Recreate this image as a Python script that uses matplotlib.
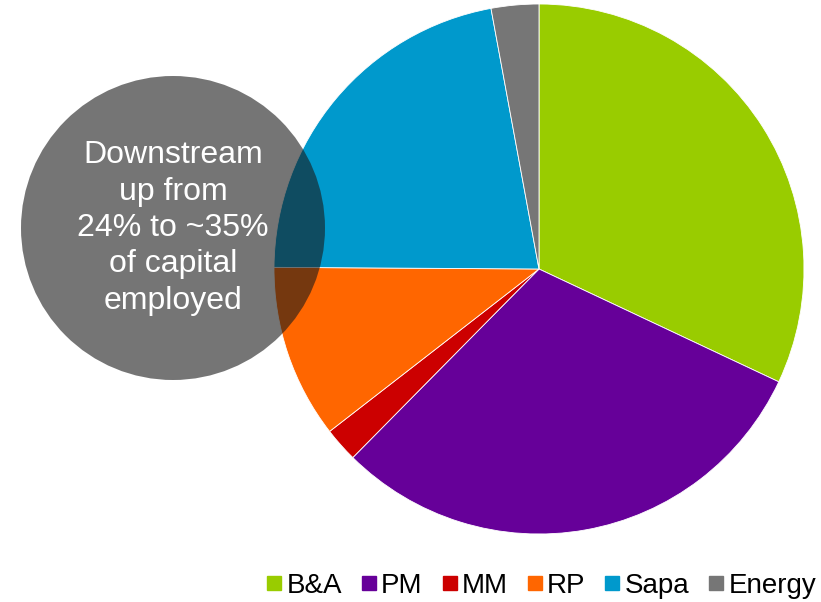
import matplotlib
matplotlib.use("Agg")
import matplotlib.pyplot as plt
from matplotlib.patches import Circle
from matplotlib.lines import Line2D

plt.rcParams['font.family'] = ['Liberation Sans', 'DejaVu Sans']

# Share of capital employed by business area (%)
segments = ["B&A", "PM", "MM", "RP", "Sapa", "Energy"]
shares = [32.0, 30.4, 2.1, 10.6, 22.0, 2.9]
colors = ["#99cc00", "#660099", "#cc0000", "#ff6600", "#0099cc", "#767676"]

callout = "Downstream\nup from\n24% to ~35%\nof capital\nemployed"

W, H = 821, 602
fig = plt.figure(figsize=(W / 100, H / 100), dpi=100)
ax = fig.add_axes([0, 0, 1, 1])
ax.set_xlim(0, W)
ax.set_ylim(0, H)
ax.set_aspect("equal")
ax.axis("off")

ax.pie(shares, colors=colors, startangle=90, counterclock=False,
       center=(539, H - 269), radius=265,
       wedgeprops=dict(linewidth=0.6, edgecolor="white"))
ax.set_xlim(0, W)
ax.set_ylim(0, H)

# translucent callout bubble
ax.add_patch(Circle((173, H - 228), 152, facecolor="#1a1a1a", alpha=0.6,
                    edgecolor="none", zorder=5))
ax.text(173, H - 228, callout, color="white", fontsize=23, ha="center",
        va="center", linespacing=1.28, zorder=6)

handles = [Line2D([], [], marker="s", linestyle="none", markersize=9.5,
                  markerfacecolor=c, markeredgecolor=c) for c in colors]
fig.legend(handles, segments, loc="center right", ncol=6, frameon=False,
           fontsize=20, handlelength=0.47, handletextpad=0.2,
           columnspacing=0.74, borderpad=0, borderaxespad=0,
           bbox_to_anchor=(816 / W, 16 / H))

fig.savefig("out.png", dpi=100)
